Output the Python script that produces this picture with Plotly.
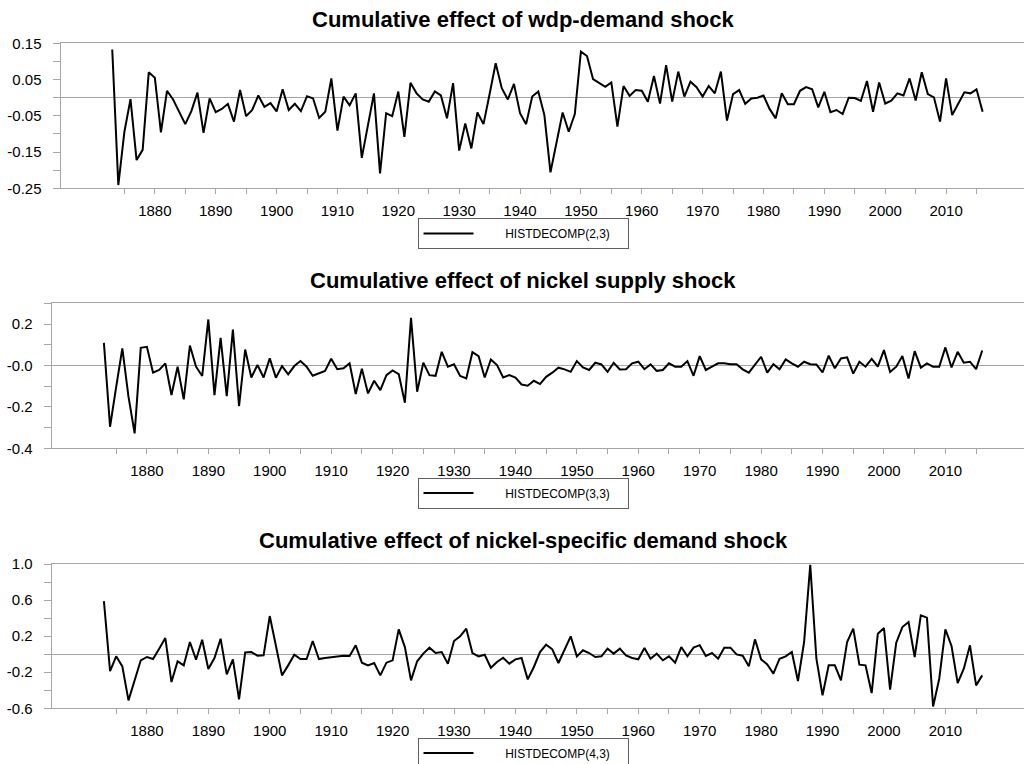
import plotly.graph_objects as go

years = list(range(1873, 2017))

wdp_demand = [
    0.133, -0.241, -0.094, -0.004, -0.172, -0.144, 0.070,
    0.055, -0.096, 0.019, -0.005, -0.039, -0.073, -0.037, 0.014, -0.097, -0.002,
    -0.040, -0.031, -0.017, -0.066, 0.021, -0.051, -0.034, 0.006, -0.025, -0.015,
    -0.038, 0.023, -0.034, -0.017, -0.037, 0.004, -0.002, -0.056, -0.039, 0.053,
    -0.091, 0.003, -0.021, 0.012, -0.166, -0.076, 0.012, -0.209, -0.043, -0.051,
    0.017, -0.108, 0.041, 0.012, -0.005, -0.011, 0.017, 0.006, -0.057, 0.040,
    -0.146, -0.071, -0.140, -0.041, -0.073, 0.010, 0.095, 0.026, -0.005, 0.038,
    -0.043, -0.073, 0.003, 0.017, -0.048, -0.206, -0.121, -0.041, -0.094, -0.045,
    0.127, 0.115, 0.051, 0.040, 0.030, 0.042, -0.080, 0.032, 0.005, 0.021,
    0.019, -0.011, 0.060, -0.016, 0.090, -0.011, 0.072, 0.003, 0.044, 0.029,
    0.003, 0.032, 0.012, 0.072, -0.063, 0.010, 0.021, -0.017, -0.002, 0.000,
    0.006, -0.031, -0.057, 0.012, -0.018, -0.018, 0.019, 0.029, 0.023, -0.027,
    0.016, -0.040, -0.034, -0.045, 0.000, -0.001, -0.009, 0.046, -0.039, 0.042,
    -0.016, -0.008, 0.012, 0.006, 0.053, -0.008, 0.070, 0.010, 0.001, -0.066,
    0.053, -0.048, -0.017, 0.015, 0.012, 0.023, -0.039,
]

nickel_supply = [
    0.109, -0.296, -0.103, 0.082, -0.151, -0.328, 0.085,
    0.090, -0.035, -0.022, 0.010, -0.143, -0.006, -0.164, 0.096, -0.006, -0.051,
    0.222, -0.143, 0.133, -0.148, 0.173, -0.196, 0.077, -0.058, 0.002, -0.058,
    0.034, -0.059, -0.003, -0.043, -0.003, 0.021, -0.006, -0.050, -0.039, -0.027,
    0.032, -0.018, -0.014, 0.010, -0.138, -0.016, -0.135, -0.074, -0.119, -0.047,
    -0.024, -0.042, -0.180, 0.230, -0.127, 0.013, -0.047, -0.050, 0.066, -0.006,
    0.006, -0.051, -0.063, 0.064, 0.045, -0.058, 0.029, 0.002, -0.058, -0.047,
    -0.059, -0.092, -0.098, -0.074, -0.090, -0.055, -0.035, -0.011, -0.019, -0.031,
    0.021, -0.010, -0.022, 0.013, 0.005, -0.031, 0.013, -0.019, -0.018, 0.010,
    0.018, -0.018, 0.005, -0.026, -0.022, 0.010, -0.006, -0.006, 0.021, -0.050,
    0.045, -0.022, -0.006, 0.010, 0.010, 0.006, 0.006, -0.019, -0.035, 0.002,
    0.042, -0.035, 0.006, -0.018, 0.029, 0.010, -0.006, 0.018, 0.006, 0.005,
    -0.034, 0.047, -0.014, 0.034, 0.039, -0.039, 0.018, -0.006, 0.032, -0.006,
    0.074, -0.032, -0.006, 0.045, -0.063, 0.069, -0.011, 0.010, -0.006, -0.006,
    0.087, -0.010, 0.066, 0.013, 0.018, -0.018, 0.072,
]

nickel_specific = [
    0.589, -0.187, -0.024, -0.135, -0.512, -0.290, -0.068,
    -0.031, -0.054, 0.061, 0.179, -0.309, -0.079, -0.124, 0.135, -0.061, 0.161,
    -0.164, -0.042, 0.172, -0.224, -0.057, -0.501, 0.020, 0.024, -0.017, -0.013,
    0.423, 0.098, -0.235, -0.124, -0.006, -0.054, -0.054, 0.146, -0.054, -0.042,
    -0.031, -0.020, -0.017, -0.020, 0.098, -0.094, -0.124, -0.098, -0.235, -0.094,
    -0.068, 0.275, 0.079, -0.290, -0.079, 0.006, 0.072, 0.013, 0.024, -0.105,
    0.146, 0.198, 0.283, 0.013, -0.024, -0.006, -0.150, -0.087, -0.039, -0.105,
    -0.057, -0.042, -0.279, -0.142, 0.024, 0.105, 0.054, -0.098, 0.050, 0.198,
    -0.024, 0.043, 0.013, -0.031, -0.024, 0.061, 0.006, 0.061, -0.013, -0.042,
    -0.057, 0.068, -0.050, 0.006, -0.068, -0.024, -0.094, 0.079, -0.024, 0.072,
    0.100, -0.020, 0.013, -0.050, 0.072, 0.072, -0.002, -0.017, -0.135, 0.164,
    -0.057, -0.113, -0.216, -0.050, -0.024, 0.024, -0.297, 0.135, 0.990, -0.050,
    -0.456, -0.124, -0.124, -0.290, 0.135, 0.283, -0.116, -0.124, -0.431, 0.227,
    0.290, -0.394, 0.127, 0.301, 0.357, -0.031, 0.431, 0.405, -0.580, -0.272,
    0.275, 0.091, -0.320, -0.161, 0.098, -0.346, -0.235,
]

titles = [
    "Cumulative effect of wdp-demand shock",
    "Cumulative effect of nickel supply shock",
    "Cumulative effect of nickel-specific demand shock",
]
series_names = ["HISTDECOMP(2,3)", "HISTDECOMP(3,3)", "HISTDECOMP(4,3)"]

x_tickvals = list(range(1875, 2016, 5))
x_ticktext = [str(v) if v % 10 == 0 else "" for v in x_tickvals]

y1_tickvals = [0.15, 0.10, 0.05, 0.0, -0.05, -0.10, -0.15, -0.20, -0.25]
y1_ticktext = ["0.15", "", "0.05", "", "-0.05", "", "-0.15", "", "-0.25"]
y2_tickvals = [0.3, 0.2, 0.1, 0.0, -0.1, -0.2, -0.3, -0.4]
y2_ticktext = ["", "0.2", "", "-0.0", "", "-0.2", "", "-0.4"]
y3_tickvals = [1.0, 0.8, 0.6, 0.4, 0.2, 0.0, -0.2, -0.4, -0.6]
y3_ticktext = ["1.0", "", "0.6", "", "0.2", "", "-0.2", "", "-0.6"]

W, H = 1024, 764
AX = "#a6a6a6"
FONT = "Liberation Sans, Arial, Helvetica, sans-serif"
NBSP = "\u00a0"

# panel geometry (pixels)
panels = [
    dict(left=60.5, top=43.3, bottom=188.3, yr=[-0.25, 0.15], tv=y1_tickvals, tt=y1_ticktext,
         title_y=20, leg_y=218),
    dict(left=51.7, top=303.3, bottom=448.3, yr=[-0.4, 0.3], tv=y2_tickvals, tt=y2_ticktext,
         title_y=280, leg_y=477.5),
    dict(left=51.7, top=564.0, bottom=708.3, yr=[-0.6, 1.0], tv=y3_tickvals, tt=y3_ticktext,
         title_y=540, leg_y=737.5),
]
data = [wdp_demand, nickel_supply, nickel_specific]

fig = go.Figure()
layout = dict(
    width=W, height=H, autosize=False,
    margin=dict(l=0, r=0, t=0, b=0, pad=0, autoexpand=False),
    paper_bgcolor="white", plot_bgcolor="white",
    font=dict(family=FONT, size=15, color="black"),
    annotations=[],
)

for i, (p, vals) in enumerate(zip(panels, data)):
    n = "" if i == 0 else str(i + 1)
    leg = "legend" if i == 0 else f"legend{i + 1}"
    fig.add_trace(go.Scatter(
        x=years, y=vals, mode="lines", name=NBSP * 8 + series_names[i],
        line=dict(color="black", width=2),
        xaxis=f"x{n}", yaxis=f"y{n}", legend=leg, showlegend=True,
        hoverinfo="x+y",
    ))
    layout[f"xaxis{n}"] = dict(
        domain=[p["left"] / W, 1.0], anchor=f"y{n}",
        range=[1864.5, 2022.8], tickvals=x_tickvals, ticktext=x_ticktext,
        ticks="outside", ticklen=5, tickcolor=AX, tickwidth=1,
        showline=True, linecolor=AX, linewidth=1, mirror=True,
        showgrid=False, zeroline=False, tickfont=dict(size=15),
        ticklabelstandoff=4, automargin=False,
    )
    layout[f"yaxis{n}"] = dict(
        domain=[1 - p["bottom"] / H, 1 - p["top"] / H], anchor=f"x{n}",
        range=p["yr"], tickvals=p["tv"], ticktext=p["tt"],
        ticks="outside", ticklen=7, tickcolor=AX, tickwidth=1,
        showline=True, linecolor=AX, linewidth=1,
        showgrid=False, zeroline=True, zerolinecolor=AX, zerolinewidth=1,
        tickfont=dict(size=15), ticklabelstandoff=8, automargin=False,
    )
    layout["annotations"].append(dict(
        text=f"<b>{titles[i]}</b>", x=523 / W, y=1 - p["title_y"] / H,
        xref="paper", yref="paper", xanchor="center", yanchor="middle",
        showarrow=False, font=dict(family=FONT, size=22, color="black"),
    ))
    layout[leg] = dict(
        x=417.5 / W, y=1 - p["leg_y"] / H, xanchor="left", yanchor="top",
        bordercolor="#606060", borderwidth=1, bgcolor="white",
        font=dict(family=FONT, size=12, color="black"),
        orientation="h", itemwidth=50, entrywidth=144, visible=True,
    )

layout["showlegend"] = True
fig.update_layout(**layout)

fig.write_html("out.html", config={"displayModeBar": False},
               post_script="document.body.style.margin='0';")
